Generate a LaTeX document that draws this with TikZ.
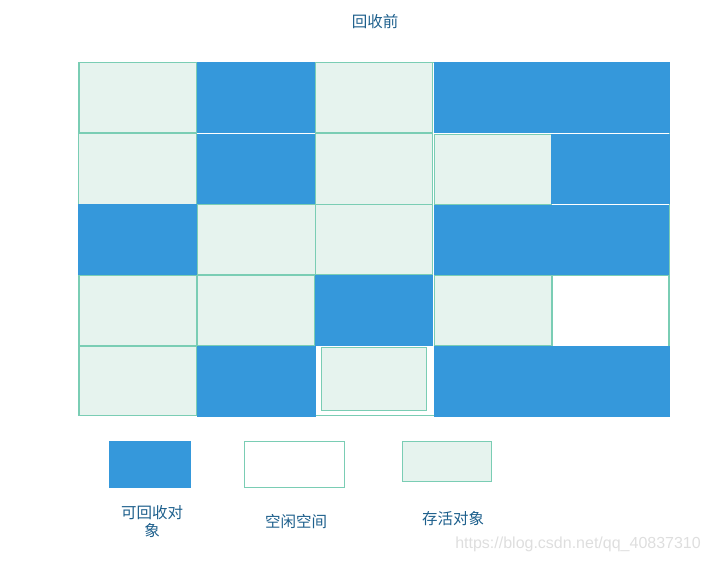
\documentclass[tikz,border=0pt]{standalone}
\usepackage{fontspec}
\newfontfamily\cjk{Noto Sans CJK SC}
\newfontfamily\wmfont{Liberation Sans}
\definecolor{reclaim}{HTML}{3598DB}
\definecolor{livefill}{HTML}{E6F3EE}
\definecolor{liveline}{HTML}{7ACDB4}
\definecolor{txt}{HTML}{1D5F8C}
\tikzset{
  live/.style={fill=livefill,draw=liveline,line width=1pt},
  freecell/.style={fill=white,draw=liveline,line width=1pt},
  dead/.style={fill=reclaim},
  lbl/.style={font=\cjk\fontsize{15.5}{18}\selectfont,text=txt,inner sep=0pt,align=center},
}
\begin{document}
\begin{tikzpicture}[x=1pt,y=-1pt]
\useasboundingbox (0,0) rectangle (711,563);
% outer frame
\draw[liveline,line width=1pt] (78.5,62.5) rectangle (669,415.5);
% row 1
\draw[live] (79,62.5) rectangle (196.5,132.5);
\fill[dead] (197,62) rectangle (315,132.6);
\draw[live] (315.5,62.5) rectangle (432.5,132.5);
\fill[dead] (433.5,62) rectangle (669.5,132.6);
% row 2
\draw[live] (78.5,133.5) rectangle (196.5,204);
\fill[dead] (197,134) rectangle (315,204.3);
\draw[live] (315.5,133.5) rectangle (432.5,204);
\draw[live] (434.5,134.5) rectangle (551,204);
\fill[dead] (551,134) rectangle (669.5,204);
% row 3
\fill[dead] (78,204) rectangle (197,275);
\draw[live] (197.5,204.5) rectangle (315,274.5);
\draw[live] (315.5,204.5) rectangle (432.5,274.5);
\fill[dead] (433.5,205) rectangle (669,275);
% row 4
\draw[live] (79,275.5) rectangle (196.5,345.5);
\draw[live] (197.5,275.5) rectangle (314.5,345.5);
\fill[dead] (315,275) rectangle (433,346);
\draw[live] (434.5,275.5) rectangle (551.5,345.5);
\draw[freecell] (552,275.2) rectangle (668.5,346);
% row 5
\draw[live] (79,346.5) rectangle (196.5,415.5);
\fill[dead] (197,346) rectangle (315.5,416.5);
\draw[live] (321.5,347.5) rectangle (426.5,410);
\fill[dead] (433.5,346) rectangle (670,416.5);
% title
\node[lbl] (title) at (375,22) {回收前};
% legend
\fill[dead] (109,441) rectangle (191,488);
\draw[freecell] (244.5,441.5) rectangle (344.5,487);
\draw[live] (402.5,441.5) rectangle (491,481);
\node[lbl] (l1) at (152,521.5) {可回收对\\象};
\node[lbl] (l2) at (296,522) {空闲空间};
\node[lbl] (l3) at (453,519) {存活对象};
\node[font=\wmfont\fontsize{16}{18}\selectfont,text=black!13,anchor=east,inner sep=0pt] (wm) at (701,544) {https://blog.csdn.net/qq\_40837310};
\end{tikzpicture}
\end{document}
